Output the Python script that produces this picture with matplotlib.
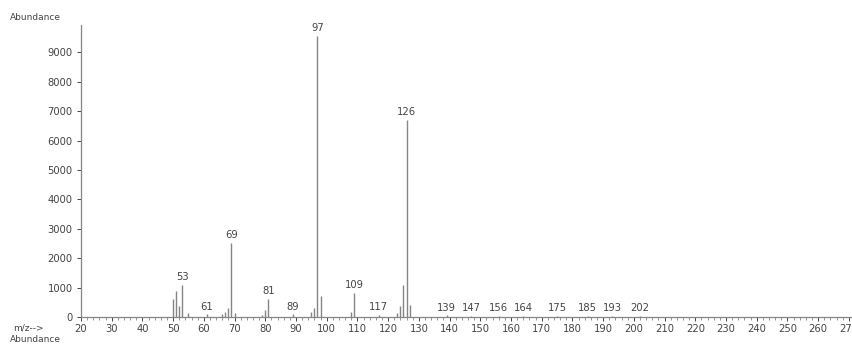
import matplotlib
matplotlib.use("Agg")
import matplotlib.pyplot as plt
from matplotlib.ticker import MultipleLocator

# m/z values and abundances
mz = [50, 51, 52, 53, 55, 61, 66, 67, 68, 69, 70, 79, 80, 81, 89, 95, 96, 97, 98,
      108, 109, 117, 123, 124, 125, 126, 127, 139, 147, 156, 164, 175, 185, 193, 202]
abund = [620, 900, 380, 1100, 150, 90, 100, 160, 320, 2530, 130, 80, 250, 620, 90, 160, 320, 9560, 720,
         180, 820, 70, 150, 380, 1100, 6700, 420, 60, 40, 40, 40, 40, 40, 40, 40]

# labelled peaks
label_mz = [53, 61, 69, 81, 89, 97, 109, 117, 126, 139, 147, 156, 164, 175, 185, 193, 202]

x_ticks = list(range(20, 280, 10))
y_ticks = list(range(0, 10000, 1000))

txt = "#444444"
line = "#858585"

fig = plt.figure(figsize=(8.52, 3.48), dpi=100)
ax = fig.add_axes([0.095, 0.089, 0.905, 0.839])

ax.vlines(mz, 0, abund, color=line, linewidth=1.0)

ab_map = dict(zip(mz, abund))
for m in label_mz:
    ax.text(m, ab_map[m] + 90, str(m), ha="center", va="bottom", fontsize=7.2, color=txt)

ax.set_xlim(20, 271)
ax.set_ylim(0, 9930)
ax.set_xticks(x_ticks)
ax.set_yticks(y_ticks)
ax.xaxis.set_minor_locator(MultipleLocator(2))
ax.tick_params(axis="both", labelsize=7.2, colors=txt, length=3, width=0.7, pad=3)
ax.tick_params(axis="x", which="minor", length=2, width=0.6, colors=line)
ax.tick_params(axis="x", pad=2)
ax.spines["top"].set_visible(False)
ax.spines["right"].set_visible(False)
for s in ("left", "bottom"):
    ax.spines[s].set_color(line)
    ax.spines[s].set_linewidth(0.9)

fig.text(0.012, 0.95, "Abundance", fontsize=6.5, color=txt, va="center", ha="left")
fig.text(0.015, 0.058, "m/z-->", fontsize=6.5, color=txt, va="center", ha="left")
fig.text(0.012, 0.025, "Abundance", fontsize=6.5, color=txt, va="center", ha="left")

fig.savefig("out.png", dpi=100, facecolor="white")
